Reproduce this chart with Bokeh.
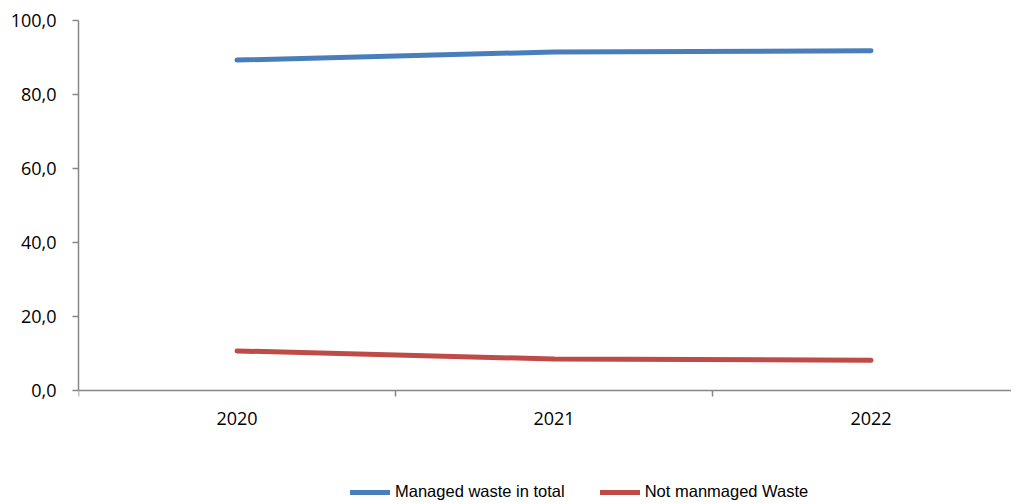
from bokeh.plotting import figure
from bokeh.models import Range1d, FixedTicker, Legend, LegendItem, ColumnDataSource
from bokeh.embed import file_html
from bokeh.resources import INLINE

years = ["2020", "2021", "2022"]
managed = [89.3, 91.5, 91.8]
not_managed = [10.7, 8.5, 8.2]
y_ticks = [0, 20, 40, 60, 80, 100]
y_labels = ["0,0", "20,0", "40,0", "60,0", "80,0", "100,0"]

xpos = [i + 0.5 for i in range(len(years))]

# frame extends below the value axis to host the category labels and legend
p = figure(width=1011, height=500, frame_width=933, frame_height=480,
           x_range=Range1d(0, 2.943), y_range=Range1d(-29.73, 100),
           output_backend="svg", toolbar_location=None,
           min_border_left=78, min_border_top=20, min_border_right=0, min_border_bottom=0)
p.outline_line_color = None
p.xgrid.visible = False
p.ygrid.visible = False
p.background_fill_color = "white"

src1 = ColumnDataSource(dict(x=xpos, y=managed))
src2 = ColumnDataSource(dict(x=xpos, y=not_managed))
r1 = p.line("x", "y", source=src1, line_color="#4A7EBB", line_width=5, line_cap="round", line_join="round")
r2 = p.line("x", "y", source=src2, line_color="#BE4B48", line_width=5, line_cap="round", line_join="round")

axis_color = "#868686"
# y axis
p.yaxis.ticker = FixedTicker(ticks=y_ticks)
p.yaxis.bounds = (0, 100)
p.yaxis.major_label_overrides = {t: l for t, l in zip(y_ticks, y_labels)}
p.yaxis.axis_line_color = axis_color
p.yaxis.axis_line_width = 1.5
p.yaxis.major_tick_line_color = axis_color
p.yaxis.major_tick_line_width = 1.5
p.yaxis.major_tick_out = 6
p.yaxis.major_tick_in = 0
p.yaxis.minor_tick_line_color = None
p.yaxis.major_label_text_font = "Open Sans"
p.yaxis.major_label_text_font_size = "18px"
p.yaxis.major_label_text_color = "black"
p.yaxis.major_label_standoff = 16

# x axis, fixed at y = 0
p.xaxis.fixed_location = 0
p.xaxis.ticker = FixedTicker(ticks=xpos, minor_ticks=[0, 1, 2, 3])
p.xaxis.major_label_overrides = {x: y for x, y in zip(xpos, years)}
p.xaxis.axis_line_color = axis_color
p.xaxis.axis_line_width = 1.5
p.xaxis.major_tick_line_color = None
p.xaxis.major_tick_out = 0
p.xaxis.major_tick_in = 0
p.xaxis.minor_tick_line_color = axis_color
p.xaxis.minor_tick_line_width = 1.5
p.xaxis.minor_tick_out = 6
p.xaxis.minor_tick_in = 0
p.xaxis.major_label_text_font = "Open Sans"
p.xaxis.major_label_text_font_size = "18px"
p.xaxis.major_label_text_color = "black"
p.xaxis.major_label_standoff = 16

legend = Legend(items=[LegendItem(label="Managed waste in total", renderers=[r1]),
                       LegendItem(label="Not manmaged Waste", renderers=[r2])],
                orientation="horizontal", location=(272, -1))
legend.border_line_color = None
legend.background_fill_alpha = 0
legend.label_text_font = "Liberation Sans"
legend.label_text_font_size = "16.5px"
legend.label_text_color = "black"
legend.glyph_width = 40
legend.glyph_height = 10
legend.label_standoff = 5
legend.spacing = 35
legend.padding = 0
legend.margin = 0
p.add_layout(legend, "center")

open("out.html", "w").write(file_html(p, INLINE))
